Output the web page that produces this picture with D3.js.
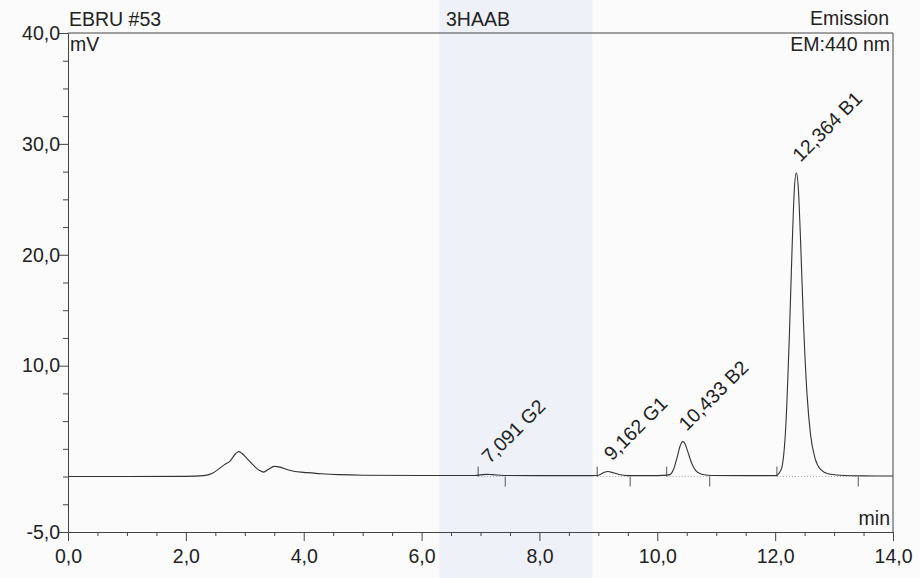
<!DOCTYPE html>
<html>
<head>
<meta charset="utf-8">
<script src="https://cdn.jsdelivr.net/npm/d3@7"></script>
<style>
  body { margin: 0; background: #fbfbfb; }
  svg text { font-family: "Liberation Sans", Arial, sans-serif; fill: #222; }
</style>
</head>
<body>
<svg width="920" height="578"></svg>
<script>
// chromatogram trace (min, mV)
const times = [0, 1.0, 2.0, 2.3, 2.45, 2.55, 2.65, 2.75, 2.85, 2.9, 2.95, 3.05, 3.15, 3.25, 3.32, 3.4, 3.5, 3.6, 3.7, 3.85, 4.0, 4.3, 4.6, 5.0, 6.0,
  6.9, 7.0, 7.1, 7.2, 7.4, 8.0, 8.9, 9.0, 9.1, 9.16, 9.25, 9.35, 9.5, 10.0, 10.2, 10.28, 10.34, 10.39, 10.43, 10.47, 10.52, 10.58, 10.65, 10.75, 10.9,
  11.5, 12.0, 12.1, 12.18, 12.24, 12.29, 12.33, 12.36, 12.39, 12.43, 12.48, 12.54, 12.6, 12.68, 12.78, 12.9, 13.1, 13.5, 14.0];
const signal = [0, 0, 0.02, 0.08, 0.3, 0.65, 1.05, 1.4, 2.1, 2.25, 2.1, 1.55, 1.0, 0.55, 0.4, 0.65, 0.92, 0.85, 0.65, 0.45, 0.38, 0.25, 0.17, 0.12, 0.1,
  0.1, 0.15, 0.2, 0.17, 0.1, 0.08, 0.08, 0.12, 0.38, 0.45, 0.35, 0.18, 0.08, 0.08, 0.15, 0.7, 1.8, 2.8, 3.15, 2.95, 2.2, 1.25, 0.55, 0.2, 0.1,
  0.08, 0.08, 0.6, 4.5, 12.5, 21.0, 26.3, 27.4, 26.3, 21.5, 14.0, 7.5, 3.8, 1.6, 0.6, 0.25, 0.12, 0.06, 0.05];

// integrated peaks
const peakNames = ["7,091 G2", "9,162 G1", "10,433 B2", "12,364 B1"];
const peakTimes = [7.091, 9.162, 10.433, 12.364];
const peakHeights = [0.2, 0.45, 3.15, 27.4];
const peakStart = [6.96, 8.98, 10.16, 12.03];
const peakEnd = [7.42, 9.54, 10.89, 13.41];

const yMajor = [-5, 10, 20, 30, 40];
const xMajor = [0, 2, 4, 6, 8, 10, 12, 14];

const svg = d3.select("svg");
const m = { left: 68, right: 893, top: 33, bottom: 532 };
const fs = 19.5;

const x = d3.scaleLinear().domain([0, 14]).range([m.left, m.right]);
const y = d3.scaleLinear().domain([-5, 40]).range([m.bottom, m.top]);
const fmt = v => v.toFixed(1).replace(".", ",");

// faint scanner band
svg.append("rect")
  .attr("x", x(6.3)).attr("y", 0)
  .attr("width", x(8.9) - x(6.3)).attr("height", 578)
  .attr("fill", "#eef1f8");

// frame: top and right edges
svg.append("path")
  .attr("d", `M${m.left},${m.top}H${m.right}V${m.bottom}`)
  .attr("fill", "none").attr("stroke", "#444").attr("stroke-width", 1);

// y axis
const yMinor = d3.range(-5, 40.01, 2.5).filter(v => !yMajor.includes(v));
const yAxis = svg.append("g").attr("transform", `translate(${m.left},0)`)
  .call(d3.axisLeft(y).tickValues(yMajor).tickFormat(fmt).tickSize(9).tickSizeOuter(0));
svg.append("g").attr("transform", `translate(${m.left},0)`)
  .call(d3.axisLeft(y).tickValues(yMinor).tickFormat("").tickSize(5).tickSizeOuter(0))
  .select(".domain").remove();

// x axis
const xMinor = d3.range(0.5, 14, 0.5).filter(v => !xMajor.includes(v));
const xAxis = svg.append("g").attr("transform", `translate(0,${m.bottom})`)
  .call(d3.axisBottom(x).tickValues(xMajor).tickFormat(fmt).tickSize(9).tickSizeOuter(0));
svg.append("g").attr("transform", `translate(0,${m.bottom})`)
  .call(d3.axisBottom(x).tickValues(xMinor).tickFormat("").tickSize(4).tickSizeOuter(0))
  .select(".domain").remove();

svg.selectAll(".domain, .tick line").attr("stroke", "#444");
svg.selectAll(".tick text").attr("font-size", fs).style("fill", "#222");
yAxis.selectAll(".tick text").attr("x", -8);
xAxis.selectAll(".tick text").attr("y", 17);

// header texts
svg.append("text").attr("x", m.left + 1).attr("y", 26).attr("font-size", fs).text("EBRU #53");
svg.append("text").attr("x", 478).attr("y", 26).attr("font-size", fs).attr("text-anchor", "middle").text("3HAAB");
svg.append("text").attr("x", m.right - 4).attr("y", 25).attr("font-size", fs).attr("text-anchor", "end").text("Emission");
svg.append("text").attr("x", m.left + 2).attr("y", 51).attr("font-size", fs).text("mV");
svg.append("text").attr("x", m.right - 3).attr("y", 51).attr("font-size", fs).attr("text-anchor", "end").text("EM:440 nm");
svg.append("text").attr("x", m.right - 3).attr("y", m.bottom - 7).attr("font-size", fs).attr("text-anchor", "end").text("min");

// integration baselines and markers
peakStart.forEach((s, i) => {
  svg.append("line")
    .attr("x1", x(s)).attr("x2", x(peakEnd[i]))
    .attr("y1", y(0)).attr("y2", y(0))
    .attr("stroke", "#aaa").attr("stroke-width", 1).attr("stroke-dasharray", "1,2");
  svg.append("line")
    .attr("x1", x(s)).attr("x2", x(s))
    .attr("y1", y(0) - 10).attr("y2", y(0))
    .attr("stroke", "#555");
  svg.append("line")
    .attr("x1", x(peakEnd[i])).attr("x2", x(peakEnd[i]))
    .attr("y1", y(0)).attr("y2", y(0) + 10)
    .attr("stroke", "#555");
});

// trace
const pts = times.map((t, i) => [t, signal[i]]);
svg.append("path")
  .datum(pts)
  .attr("fill", "none")
  .attr("stroke", "#333")
  .attr("stroke-width", 1.1)
  .attr("d", d3.line().x(d => x(d[0])).y(d => y(d[1])).curve(d3.curveMonotoneX));

// peak labels
svg.selectAll("text.peak")
  .data(peakNames)
  .enter()
  .append("text")
  .attr("class", "peak")
  .attr("font-size", fs)
  .attr("transform", (d, i) => `translate(${x(peakTimes[i]) + 4},${y(peakHeights[i]) - 10}) rotate(-45)`)
  .text(d => d);
</script>
</body>
</html>
